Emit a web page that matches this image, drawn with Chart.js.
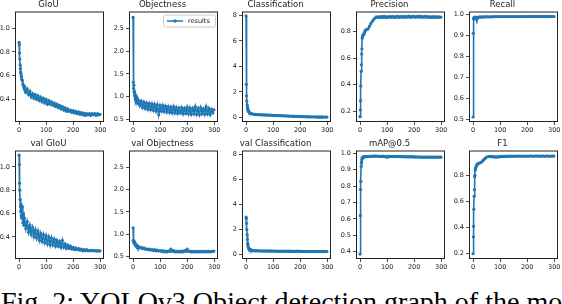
<!DOCTYPE html>
<html>
<head>
<meta charset="utf-8">
<script src="https://cdn.jsdelivr.net/npm/chart.js@4.4.0/dist/chart.umd.min.js"></script>
<style>
  html, body { margin: 0; padding: 0; background: #fff; }
  #fig { position: relative; width: 562px; height: 304px; overflow: hidden; background: #fff; }
  #fig canvas { position: absolute; }
  #caption { position: absolute; left: 1px; top: 288px; font: 28px/28px "Liberation Serif", serif; color: #000; white-space: nowrap; }
</style>
</head>
<body>
<div id="fig">
  <div id="caption">Fig. 2: YOLOv3 Object detection graph of the model</div>
</div>
<script>
// epochs sampled from the 300-epoch run
const epochs = [0,1,2,3,4,5,6,7,8,9,10,
  12,14,16,18,
  20,25,30,35,40,45,50,55,60,65,70,75,80,85,90,95,
  100,105,110,115,120,125,130,135,140,145,150,155,160,165,170,175,180,185,190,195,
  200,205,210,215,220,225,230,235,240,245,250,255,260,265,270,275,280,285,290,295,
  299];

const giou = [0.88,0.86,0.79,0.74,0.69,0.66,0.63,0.62,0.60,0.59,0.57,
  0.56,0.53,0.52,0.50,
  0.51,0.46,0.49,0.44,0.47,0.42,0.45,0.41,0.44,0.40,0.43,0.39,0.42,0.38,0.41,0.37,
  0.40,0.36,0.39,0.36,0.38,0.35,0.37,0.34,0.36,0.33,0.35,0.32,0.34,0.31,0.33,0.30,0.32,0.30,0.31,0.29,
  0.305,0.285,0.30,0.28,0.295,0.275,0.29,0.27,0.285,0.265,0.28,0.27,0.28,0.265,0.28,0.27,0.28,0.265,0.28,0.27,
  0.275];

const objectness = [2.75,1.32,1.18,1.25,1.10,1.12,1.02,1.06,0.96,1.00,0.92,
  0.98,0.88,0.95,0.85,
  0.92,0.80,0.90,0.76,0.88,0.74,0.86,0.72,0.85,0.71,0.84,0.70,0.83,0.68,0.82,0.60,
  0.80,0.68,0.81,0.67,0.79,0.66,0.78,0.65,0.77,0.64,0.78,0.64,0.76,0.63,0.75,0.64,0.76,0.62,0.74,0.63,
  0.77,0.62,0.75,0.61,0.74,0.62,0.78,0.61,0.74,0.60,0.76,0.62,0.73,0.61,0.78,0.62,0.74,0.60,0.72,0.64,
  0.71];

const classification = [7.95,2.6,1.7,1.3,1.0,0.85,0.7,0.62,0.55,0.5,0.45,
  0.4,0.36,0.33,0.31,
  0.3,0.27,0.25,0.24,0.23,0.22,0.22,0.21,0.21,0.2,0.2,0.19,0.2,0.18,0.19,0.17,
  0.18,0.16,0.17,0.15,0.16,0.14,0.15,0.13,0.14,0.12,0.13,0.11,0.12,0.1,0.11,0.09,0.1,0.08,0.09,0.07,
  0.08,0.06,0.08,0.06,0.07,0.05,0.07,0.05,0.06,0.04,0.06,0.04,0.05,0.03,0.05,0.03,0.05,0.03,0.04,0.03,
  0.04];

const precision = [0.16,0.21,0.28,0.39,0.50,0.55,0.63,0.67,0.75,0.76,0.77,
  0.775,0.78,0.79,0.80,
  0.81,0.815,0.82,0.84,0.86,0.875,0.89,0.90,0.91,0.905,0.912,0.904,0.913,0.905,0.914,0.903,
  0.912,0.905,0.913,0.906,0.914,0.904,0.912,0.906,0.915,0.905,0.913,0.906,0.914,0.905,0.913,0.907,0.915,0.906,0.914,0.907,
  0.915,0.906,0.914,0.907,0.915,0.907,0.914,0.906,0.913,0.906,0.913,0.905,0.912,0.905,0.912,0.905,0.911,0.905,0.911,0.905,
  0.908];

const recall = [0.51,0.91,0.98,0.978,0.985,0.982,0.986,0.984,0.987,0.985,0.986,
  0.984,0.976,0.985,0.986,
  0.987,0.988,0.987,0.988,0.988,0.989,0.988,0.989,0.989,0.988,0.989,0.989,0.99,0.989,0.99,0.989,
  0.99,0.989,0.99,0.99,0.989,0.99,0.99,0.989,0.99,0.99,0.99,0.989,0.99,0.99,0.99,0.989,0.99,0.99,0.99,0.99,
  0.99,0.99,0.99,0.99,0.99,0.99,0.99,0.99,0.99,0.99,0.99,0.99,0.99,0.99,0.99,0.99,0.99,0.99,0.99,0.99,
  0.99];

const valGiou = [1.10,1.02,0.86,0.80,0.72,0.66,0.62,0.68,0.58,0.64,0.56,
  0.66,0.52,0.60,0.50,
  0.56,0.47,0.53,0.44,0.50,0.42,0.48,0.40,0.46,0.39,0.45,0.37,0.43,0.36,0.42,0.35,
  0.41,0.34,0.40,0.33,0.39,0.33,0.38,0.32,0.37,0.32,0.36,0.31,0.37,0.31,0.34,0.30,0.33,0.30,0.32,0.295,
  0.31,0.29,0.305,0.29,0.30,0.285,0.295,0.28,0.29,0.28,0.29,0.28,0.285,0.28,0.285,0.28,0.283,0.278,0.282,0.278,
  0.28];

const valObjectness = [1.14,0.86,0.84,0.82,0.80,0.83,0.78,0.80,0.76,0.78,0.74,
  0.76,0.72,0.74,0.70,
  0.72,0.69,0.70,0.67,0.69,0.66,0.67,0.65,0.66,0.64,0.65,0.63,0.65,0.62,0.64,0.62,
  0.63,0.61,0.63,0.60,0.62,0.60,0.62,0.61,0.66,0.61,0.63,0.60,0.62,0.60,0.61,0.60,0.62,0.60,0.63,0.61,
  0.66,0.61,0.62,0.60,0.61,0.60,0.61,0.60,0.61,0.60,0.61,0.60,0.61,0.60,0.61,0.60,0.61,0.60,0.61,0.61,
  0.62];

const valClassification = [3.0,2.9,2.5,2.0,1.6,1.2,0.9,0.75,0.6,0.55,0.48,
  0.45,0.38,0.42,0.33,
  0.36,0.3,0.32,0.29,0.31,0.29,0.3,0.28,0.3,0.28,0.29,0.28,0.29,0.27,0.29,0.27,
  0.28,0.27,0.28,0.26,0.28,0.26,0.27,0.26,0.28,0.26,0.27,0.26,0.27,0.25,0.27,0.25,0.26,0.25,0.27,0.25,
  0.26,0.25,0.26,0.24,0.26,0.24,0.25,0.24,0.26,0.24,0.25,0.24,0.25,0.24,0.25,0.24,0.25,0.23,0.25,0.24,
  0.24];

const mAP = [0.385,0.62,0.78,0.83,0.92,0.94,0.95,0.965,0.972,0.975,0.978,
  0.976,0.98,0.979,0.981,
  0.98,0.982,0.981,0.983,0.982,0.984,0.982,0.985,0.983,0.984,0.982,0.983,0.981,0.984,0.98,0.983,
  0.976,0.983,0.98,0.982,0.981,0.983,0.98,0.982,0.981,0.982,0.98,0.981,0.98,0.981,0.979,0.98,0.979,0.98,0.979,0.98,
  0.978,0.979,0.978,0.979,0.978,0.978,0.977,0.978,0.977,0.978,0.977,0.977,0.977,0.977,0.977,0.977,0.977,0.977,0.977,0.977,
  0.977];

const f1 = [0.20,0.33,0.41,0.54,0.64,0.69,0.79,0.80,0.84,0.85,0.86,
  0.87,0.88,0.885,0.89,
  0.89,0.895,0.90,0.91,0.92,0.93,0.94,0.942,0.945,0.943,0.946,0.94,0.944,0.938,0.943,0.94,
  0.945,0.942,0.946,0.943,0.947,0.944,0.947,0.945,0.948,0.945,0.948,0.946,0.948,0.946,0.948,0.946,0.948,0.946,0.948,0.946,
  0.948,0.946,0.948,0.947,0.948,0.946,0.948,0.947,0.948,0.946,0.948,0.947,0.948,0.946,0.948,0.947,0.948,0.946,0.948,0.947,
  0.947];

// tick labels
const xTicks = [0, 100, 200, 300];
const giouTicks = [0.4, 0.6, 0.8, 1.0];
const objTicks = [0.5, 1.0, 1.5, 2.0, 2.5];
const clsTicks = [0, 2, 4, 6, 8];
const precTicks = [0.2, 0.4, 0.6, 0.8];
const recallTicks = [0.5, 0.6, 0.7, 0.8, 0.9, 1.0];
const mapTicks = [0.4, 0.5, 0.6, 0.7, 0.8, 0.9, 1.0];
const f1Ticks = [0.2, 0.4, 0.6, 0.8];

const panels = [
  { title: "GIoU", data: giou, ticks: giouTicks, dec: 1, yMin: 0.21, yMax: 1.14, row: 0, col: 0 },
  { title: "Objectness", data: objectness, ticks: objTicks, dec: 1, yMin: 0.44, yMax: 2.88, row: 0, col: 1, legend: true },
  { title: "Classification", data: classification, ticks: clsTicks, dec: 0, yMin: -0.35, yMax: 8.3, row: 0, col: 2 },
  { title: "Precision", data: precision, ticks: precTicks, dec: 1, yMin: 0.12, yMax: 0.95, row: 0, col: 3 },
  { title: "Recall", data: recall, ticks: recallTicks, dec: 1, yMin: 0.486, yMax: 1.014, row: 0, col: 4 },
  { title: "val GIoU", data: valGiou, ticks: giouTicks, dec: 1, yMin: 0.21, yMax: 1.14, row: 1, col: 0 },
  { title: "val Objectness", data: valObjectness, ticks: objTicks, dec: 1, yMin: 0.44, yMax: 2.88, row: 1, col: 1 },
  { title: "val Classification", data: valClassification, ticks: clsTicks, dec: 0, yMin: -0.35, yMax: 8.3, row: 1, col: 2 },
  { title: "mAP@0.5", data: mAP, ticks: mapTicks, dec: 1, yMin: 0.355, yMax: 1.018, row: 1, col: 3 },
  { title: "F1", data: f1, ticks: f1Ticks, dec: 1, yMin: 0.16, yMax: 0.99, row: 1, col: 4 }
];

// layout of the frames
const colLeft = [15, 129, 242, 356, 469];
const plotW = 89;
const rowTop = [12, 151];
const rowH = [110, 108];
const YW = 22, TH = 13, XH = 14, RP = 6;

Chart.defaults.font.family = "'DejaVu Sans', sans-serif";
Chart.defaults.color = "#222";

const framePlugin = {
  id: "frame",
  afterDraw(chart) {
    const a = chart.chartArea, ctx = chart.ctx;
    ctx.save();
    ctx.strokeStyle = "#222";
    ctx.lineWidth = 1;
    ctx.strokeRect(a.left + 0.5, a.top + 0.5, a.right - a.left - 1, a.bottom - a.top - 1);
    ctx.restore();
  }
};

const legendBox = {
  id: "legendBox",
  afterDraw(chart) {
    const a = chart.chartArea, ctx = chart.ctx;
    const w = 52, h = 12;
    const x = a.right - 3 - w, y = a.top + 3;
    ctx.save();
    ctx.fillStyle = "rgba(255,255,255,0.8)";
    ctx.strokeStyle = "#ccc";
    ctx.lineWidth = 1;
    ctx.beginPath();
    ctx.roundRect(x + 0.5, y + 0.5, w, h, 2);
    ctx.fill();
    ctx.stroke();
    ctx.strokeStyle = "#1f77b4";
    ctx.lineWidth = 1.5;
    ctx.beginPath();
    ctx.moveTo(x + 4, y + h / 2 + 0.5);
    ctx.lineTo(x + 20, y + h / 2 + 0.5);
    ctx.stroke();
    ctx.fillStyle = "#1f77b4";
    ctx.beginPath();
    ctx.arc(x + 12, y + h / 2 + 0.5, 1.7, 0, Math.PI * 2);
    ctx.fill();
    ctx.fillStyle = "#222";
    ctx.font = "6.5px 'DejaVu Sans'";
    ctx.textBaseline = "middle";
    ctx.fillText(chart.data.datasets[0].label, x + 25, y + h / 2 + 1);
    ctx.restore();
  }
};

const fig = document.getElementById("fig");

panels.forEach(p => {
  const cv = document.createElement("canvas");
  const w = YW + plotW + RP, h = TH + rowH[p.row] + XH;
  cv.width = w; cv.height = h;
  cv.style.width = w + "px"; cv.style.height = h + "px";
  cv.style.left = (colLeft[p.col] - YW) + "px";
  cv.style.top = (rowTop[p.row] - TH) + "px";
  fig.appendChild(cv);

  new Chart(cv, {
    type: "line",
    data: {
      datasets: [{
        label: "results",
        data: epochs.map((x, i) => ({ x, y: p.data[i] })),
        borderColor: "#1f77b4",
        backgroundColor: "#1f77b4",
        borderWidth: 1.6,
        pointRadius: 1.6,
        pointBorderWidth: 0,
        pointHoverRadius: 0,
        tension: 0
      }]
    },
    options: {
      responsive: false,
      animation: false,
      events: [],
      devicePixelRatio: 1,
      layout: { padding: { left: 0, right: RP, top: 0, bottom: 0 } },
      plugins: {
        legend: { display: false },
        tooltip: { enabled: false },
        title: {
          display: true,
          text: p.title,
          color: "#222",
          font: { size: 8.5, weight: "normal", lineHeight: 1 },
          padding: { top: 2, bottom: 2 }
        }
      },
      scales: {
        x: {
          type: "linear",
          min: -14.95, max: 313.95,
          afterBuildTicks: s => { s.ticks = xTicks.map(v => ({ value: v })); },
          afterFit: s => { s.height = XH; },
          grid: { drawOnChartArea: false, drawTicks: true, tickLength: 3, color: "#222", lineWidth: 0.8 },
          border: { display: false },
          ticks: { font: { size: 6.5 }, color: "#222", padding: 1, maxRotation: 0, autoSkip: false, callback: v => String(v) }
        },
        y: {
          type: "linear",
          min: p.yMin, max: p.yMax,
          afterBuildTicks: s => { s.ticks = p.ticks.map(v => ({ value: v })); },
          afterFit: s => { s.width = YW; },
          grid: { drawOnChartArea: false, drawTicks: true, tickLength: 3, color: "#222", lineWidth: 0.8 },
          border: { display: false },
          ticks: { font: { size: 6.5 }, color: "#222", padding: 2, autoSkip: false, callback: v => v.toFixed(p.dec) }
        }
      }
    },
    plugins: p.legend ? [framePlugin, legendBox] : [framePlugin]
  });
});
</script>
</body>
</html>
